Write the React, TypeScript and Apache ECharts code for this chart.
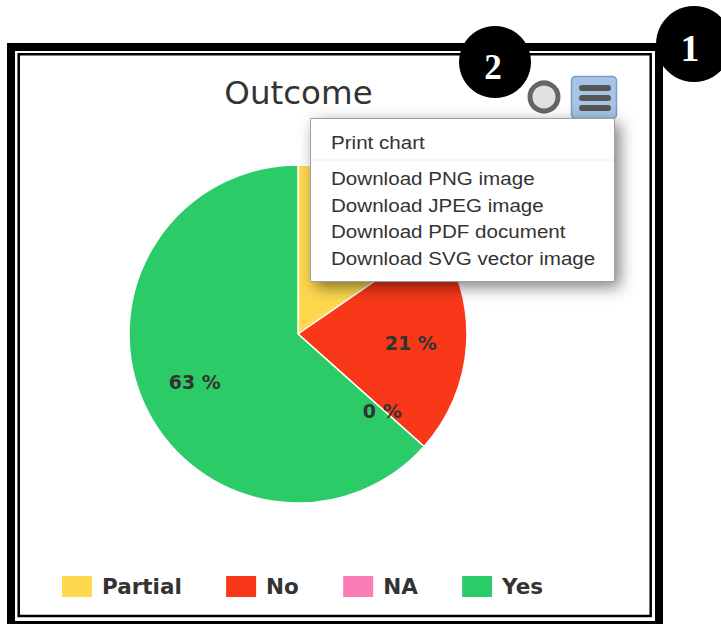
import React, { useEffect, useRef } from "react";
import * as echarts from "echarts";

const categories = ["Partial", "No", "NA", "Yes"];
const values = [15.4, 21.2, 0, 63.4];
const colors = ["#FFD84F", "#F93819", "#FB7DB6", "#2BCC68"];
const menuItems = ["Download PNG image", "Download JPEG image", "Download PDF document", "Download SVG vector image"];
const menuY = [178, 205, 231, 258];
const title = "Outcome";

const CX = 298, CY = 334, R = 169, LABEL_R = 113;
const total = values.reduce((a, b) => a + b, 0);
const midAngle = (i: number) => {
  const before = values.slice(0, i).reduce((a, b) => a + b, 0);
  return ((before + values[i] / 2) / total) * Math.PI * 2;
};

export default function App() {
  const ref = useRef<HTMLDivElement>(null);
  useEffect(() => {
    const chart = echarts.init(ref.current!, null, { renderer: "svg" });
    const menuFont = { fontFamily: "Liberation Sans", fontSize: 18.5, fill: "#333333" };
    const menuScale = 1.113;
    chart.setOption({
      animation: false,
      backgroundColor: "#ffffff",
      title: {
        text: title,
        left: 298.5,
        top: 76,
        padding: 0,
        textAlign: "center",
        textStyle: { fontFamily: "DejaVu Sans", fontWeight: "normal", fontSize: 32.5, color: "#333333" },
      },
      legend: {
        left: 60,
        top: 574,
        padding: 0,
        orient: "horizontal",
        icon: "rect",
        itemWidth: 32,
        itemHeight: 23,
        itemGap: 42.3,
        selectedMode: false,
        data: categories,
        textStyle: { fontFamily: "DejaVu Sans", fontWeight: "bold", fontSize: 21.5, color: "#333333", padding: [0, 0, 0, 4] },
      },
      series: [
        {
          type: "pie",
          center: [CX, CY],
          radius: [0, R],
          startAngle: 90,
          clockwise: true,
          data: categories.map((name, i) => ({
            name,
            value: values[i],
            itemStyle: { color: colors[i] },
            // the first slice's label lies behind the open menu in the reference
            label: { show: i !== 0 },
          })),
          itemStyle: { borderColor: "#ffffff", borderWidth: 1.5 },
          label: {
            show: true,
            position: "inside",
            formatter: (p: any) => `${Math.round(p.value)} %`,
            fontFamily: "DejaVu Sans",
            fontWeight: "bold",
            fontSize: 19,
            color: "#333333",
          },
          labelLine: { show: false },
          labelLayout: (p: any) => ({
            x: CX + LABEL_R * Math.sin(midAngle(p.dataIndex)),
            y: CY + 2 - LABEL_R * Math.cos(midAngle(p.dataIndex)),
            align: "center",
            verticalAlign: "middle",
          }),
          emphasis: { disabled: true },
        },
      ],
      graphic: [
        // frame
        { type: "rect", z: 1, silent: true, shape: { x: 11, y: 47, width: 648, height: 578 }, style: { fill: "none", stroke: "#000", lineWidth: 8 } },
        { type: "rect", z: 1, silent: true, shape: { x: 18.7, y: 54.2, width: 632, height: 561.8 }, style: { fill: "none", stroke: "#000", lineWidth: 2.5 } },
        // export button
        { type: "circle", z: 10, shape: { cx: 544, cy: 97, r: 14 }, style: { fill: "#e2e2e2", stroke: "#666666", lineWidth: 5 } },
        { type: "rect", z: 10, shape: { x: 571.5, y: 76.5, width: 45, height: 42, r: 4 }, style: { fill: "#A6C4E6", stroke: "#7A9CC6", lineWidth: 1.5 } },
        { type: "rect", z: 11, shape: { x: 579, y: 85, width: 32, height: 6, r: 3 }, style: { fill: "#555555" } },
        { type: "rect", z: 11, shape: { x: 579, y: 95, width: 32, height: 6, r: 3 }, style: { fill: "#555555" } },
        { type: "rect", z: 11, shape: { x: 579, y: 105, width: 32, height: 6, r: 3 }, style: { fill: "#555555" } },
        // menu
        {
          type: "rect", z: 12,
          shape: { x: 310.5, y: 118.5, width: 304, height: 163 },
          style: { fill: "#ffffff", stroke: "#a0a0a0", lineWidth: 1, shadowBlur: 16, shadowColor: "rgba(0,0,0,0.5)", shadowOffsetX: 5, shadowOffsetY: 5 },
        },
        { type: "line", z: 13, shape: { x1: 311, y1: 160, x2: 614, y2: 160 }, style: { stroke: "#eeeeee", lineWidth: 1 } },
        { type: "text", z: 13, x: 331, y: 142, scaleX: menuScale, style: { ...menuFont, text: "Print chart", verticalAlign: "middle" } },
        ...menuItems.map((text, i) => ({
          type: "text", z: 13, x: 331, y: menuY[i], scaleX: menuScale, style: { ...menuFont, text, verticalAlign: "middle" },
        })),
        // badges
        { type: "circle", z: 20, shape: { cx: 495, cy: 62, r: 36 }, style: { fill: "#000" } },
        { type: "text", z: 21, x: 493, y: 67, style: { text: "2", fontFamily: "Liberation Serif", fontWeight: "bold", fontSize: 35, fill: "#fff", align: "center", verticalAlign: "middle" } },
        { type: "circle", z: 20, shape: { cx: 694, cy: 44, r: 38 }, style: { fill: "#000" } },
        { type: "text", z: 21, x: 690, y: 48, style: { text: "1", fontFamily: "Liberation Serif", fontWeight: "bold", fontSize: 38, fill: "#fff", align: "center", verticalAlign: "middle" } },
      ],
    });
    return () => chart.dispose();
  }, []);
  return <div ref={ref} style={{ position: "fixed", left: 0, top: 0, width: 721, height: 624 }} />;
}
